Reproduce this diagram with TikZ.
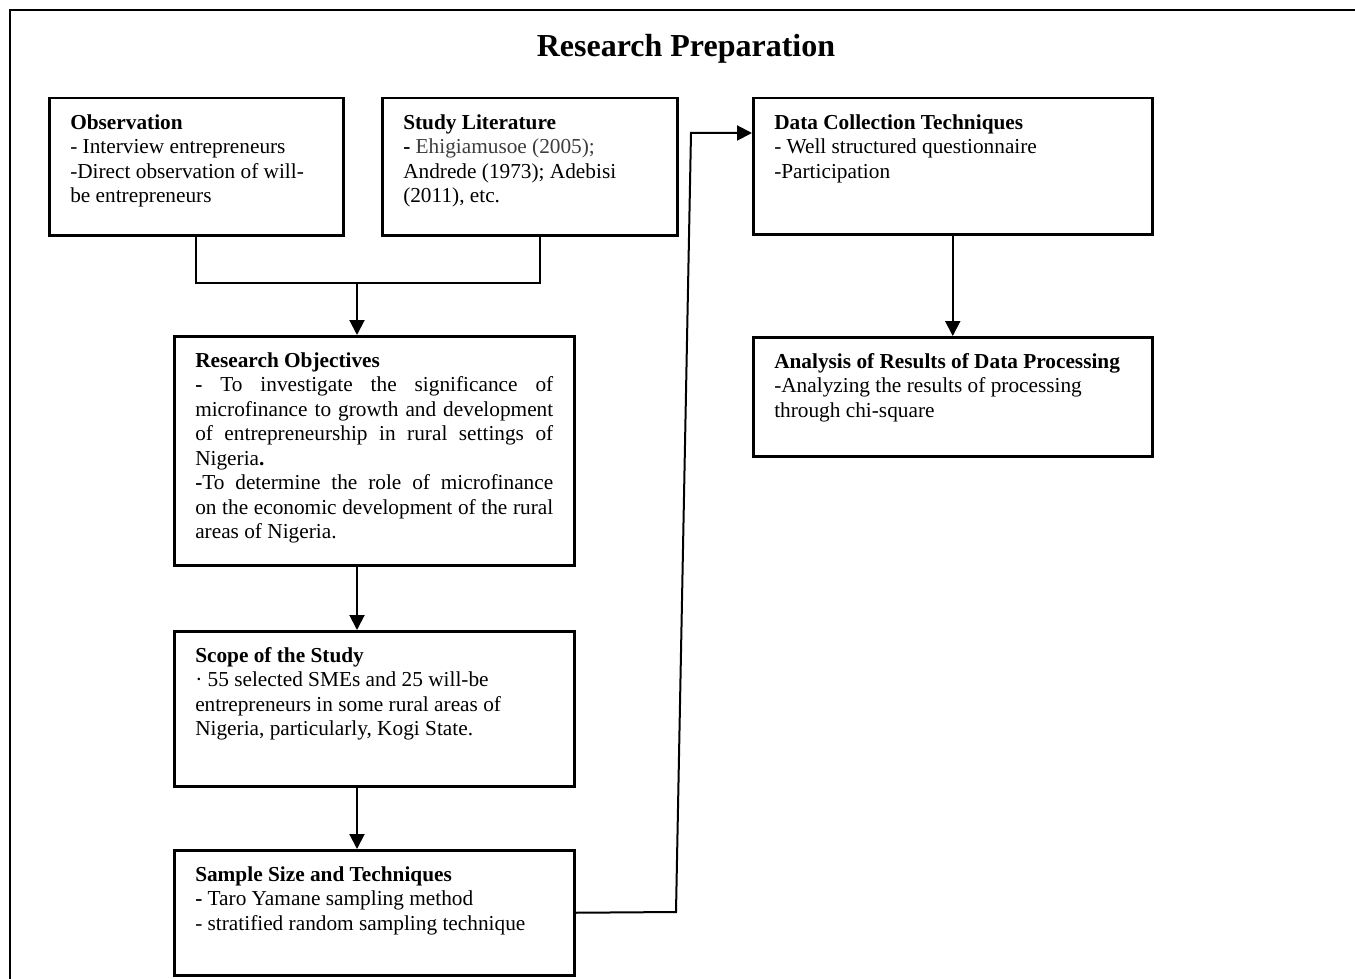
\documentclass[tikz,border=0pt]{standalone}
\usepackage{fontspec}
\setmainfont{Liberation Serif}
\usepackage{xcolor}
\usetikzlibrary{arrows.meta,positioning,calc}
\definecolor{litgray}{RGB}{60,60,60}
\newcommand{\bodyfont}{\fontsize{21.3}{24.5}\selectfont}
\newcommand{\cardtext}[3]{\parbox[c][#2][t]{#1}{#3}}

\begin{document}
\begin{tikzpicture}[x=1pt,y=-1pt,
    card/.style={draw=black,line width=2.5pt,anchor=north west,
                 inner xsep=21pt,inner ysep=16pt,font=\bodyfont},
    link/.style={line width=2pt,color=black},
    arrow/.style={link,-{Triangle[length=15pt,width=15pt]}}]
    \useasboundingbox (0,0) rectangle (1355,979);
    % outer frame (cut off at right and bottom)
    \draw[line width=2pt] (1355,10) -- (10,10) -- (10,979);
    \node[font=\fontsize{32}{36}\selectfont\bfseries,anchor=base] (title)
      at (686,57) {Research Preparation};

    \node[card] (obs) at (48,97) {\cardtext{252pt}{105pt}{%
      \textbf{Observation}\\- Interview entrepreneurs\\
      -Direct observation of will-\\be entrepreneurs}};
    \node[card] (lit) at (381,97) {\cardtext{253pt}{105pt}{%
      \textbf{Study Literature}\\\textbf{-} {\color{litgray}Ehigiamusoe (2005);}\\
      Andrede (1973); Adebisi\\(2011), etc.}};
    \node[card] (objectives) at (173,335) {\cardtext{358pt}{197pt}{%
      \hyphenpenalty=10000
      \textbf{Research Objectives}\par
      \textbf{-} To investigate the significance of\linebreak
      microfinance to growth and development\linebreak
      of entrepreneurship in rural settings of\linebreak
      Nigeria\textbf{.}\par
      \textbf{-}To determine the role of microfinance\linebreak
      on the economic development of the rural\linebreak
      areas of Nigeria.}};
    \node[card] (scope) at (173,630) {\cardtext{358pt}{123pt}{%
      \textbf{Scope of the Study}\\· 55 selected SMEs and 25 will-be\\
      entrepreneurs in some rural areas of\\Nigeria, particularly, Kogi State.}};
    \node[card] (sample) at (173,849) {\cardtext{358pt}{93pt}{%
      \textbf{Sample Size and Techniques}\\\textbf{-} Taro Yamane sampling method\\
      - stratified random sampling technique}};
    \node[card] (collect) at (752,97) {\cardtext{357pt}{104pt}{%
      \textbf{Data Collection Techniques}\\- Well structured questionnaire\\
      -Participation}};
    \node[card] (analysis) at (752,336) {\cardtext{357pt}{87pt}{%
      \textbf{Analysis of Results of Data Processing}\\
      -Analyzing the results of processing\\through chi-square}};

    % connectors
    \coordinate (spine) at (357,283);
    \coordinate (litfoot) at ([xshift=10pt]lit.south);
    \draw[link] (obs.south) |- (litfoot |- spine) -- (litfoot);
    \draw[arrow] (spine) -- (spine |- objectives.north);
    \draw[arrow] (spine |- objectives.south) -- (spine |- scope.north);
    \draw[arrow] (spine |- scope.south) -- (spine |- sample.north);
    \coordinate (riseA) at (676,912);
    \coordinate (riseB) at (691,133);
    \draw[arrow] (sample.east) -- (riseA) -- (riseB) -- (riseB -| collect.west);
    \draw[arrow] (collect.south) -- (analysis.north);
\end{tikzpicture}
\end{document}
